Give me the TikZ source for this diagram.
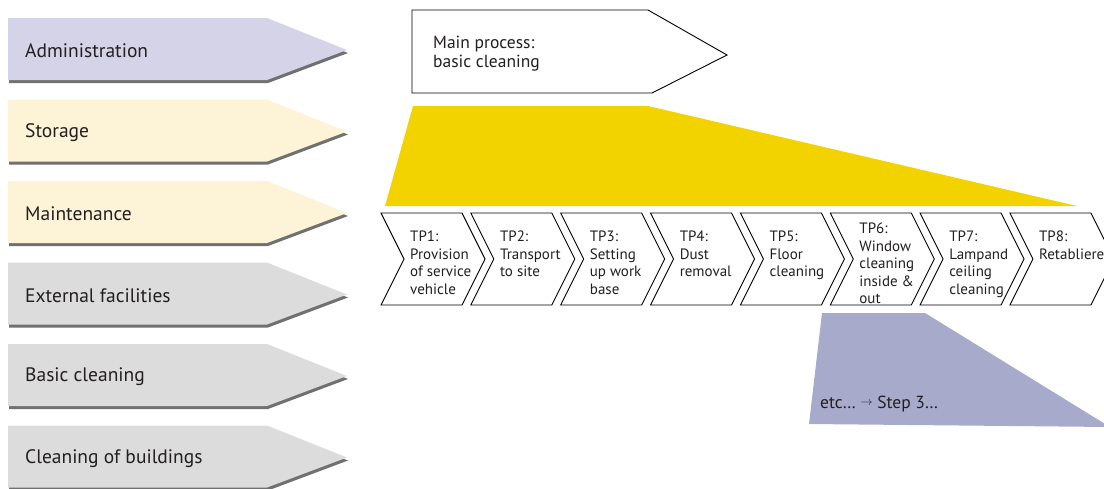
\documentclass[tikz,border=0pt]{standalone}
\usepackage{fontspec}
\setmainfont{PT Sans}
\usetikzlibrary{shadows}
\definecolor{lav}{RGB}{212,211,231}
\definecolor{cream}{RGB}{253,243,214}
\definecolor{grayf}{RGB}{220,220,220}
\definecolor{yel}{RGB}{242,211,0}
\definecolor{pur}{RGB}{168,170,204}
\definecolor{txt}{RGB}{35,31,32}
\begin{document}
\begin{tikzpicture}[x=1pt,y=-1pt,
  side/.style={drop shadow={shadow xshift=1pt,shadow yshift=-3pt,fill=black!80,opacity=.7}},
  sidelbl/.style={anchor=west,inner sep=0pt,text=txt,font=\fontsize{19.5}{23}\selectfont},
  chevbox/.style={draw=black,line width=0.9pt,fill=white,line join=miter},
  chevlbl/.style={anchor=north west,inner sep=0pt,align=left,text=txt,font=\fontsize{15}{17.5}\selectfont},
  mainlbl/.style={anchor=north west,inner sep=0pt,align=left,text=txt,font=\fontsize{17.5}{19}\selectfont}]
\useasboundingbox (0,0) rectangle (1104,488);
\clip (0,0) rectangle (1104,488);
% left side arrows
\foreach \i/\c/\t/\n in {0/lav/Administration/adm,1/cream/Storage/sto,2/cream/Maintenance/mai,3/grayf/External facilities/ext,4/grayf/Basic cleaning/bas,5/grayf/Cleaning of buildings/clb}{
  \pgfmathsetmacro\top{18+81.5*\i}
  \fill[\c,side] (8,\top) -- (267,\top) -- (347,\top+32) -- (267,\top+62) -- (8,\top+62) -- cycle;
  \node[sidelbl] (\n) at (25,\top+33) {\t};
}
% main process arrow
\draw[line width=0.9pt,fill=white] (412,10) -- (648,10) -- (727,55) -- (652,93) -- (412,93) -- cycle;
\node[mainlbl] (main) at (433,36) {Main process:\\basic cleaning};
% yellow trapezoid
\fill[yel] (413,106) -- (648,106) -- (1077,206) -- (385,206) -- cycle;
% purple trapezoid
\fill[pur] (822,313) -- (925,313) -- (1110,427) -- (809,424) -- cycle;
\node[anchor=base west,inner sep=0pt,text=txt,font=\fontsize{17.5}{20}\selectfont] (etc) at (820,408) {etc… \raisebox{0.25ex}{\fontsize{12}{12}\selectfont$\rightarrow$} Step 3…};
% chevrons
\foreach \i/\t/\dy/\n in {0/{TP1:\\Provision\\of service\\vehicle}/0/tp1,
  1/{TP2:\\Transport\\to site}/0/tp2,
  2/{TP3:\\Setting\\up work\\base}/0/tp3,
  3/{TP4:\\Dust\\removal}/0/tp4,
  4/{TP5:\\Floor\\cleaning}/0/tp5,
  5/{TP6:\\Window\\cleaning\\inside \&\\out}/-8/tp6,
  6/{TP7:\\Lampand\\ceiling\\cleaning}/0/tp7,
  7/{TP8:\\Retabliere}/0/tp8}{
  \pgfmathsetmacro\x{381+89.85*\i}
  \draw[chevbox] (\x,213) -- (\x+81,213) -- (\x+104,259) -- (\x+81,305) -- (\x,305) -- (\x+23,259) -- cycle;
  \node[chevlbl] (\n) at (\x+29,231+\dy) {\t};
}
\end{tikzpicture}
\end{document}
